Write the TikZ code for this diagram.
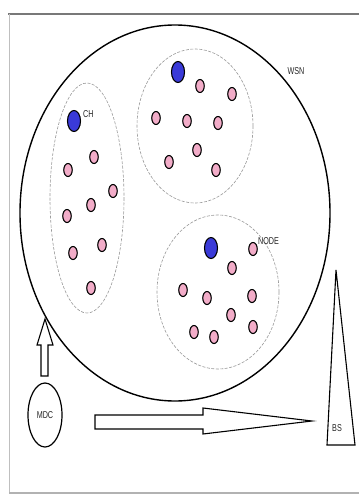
\documentclass[tikz,border=0pt]{standalone}
\usepackage{fontspec}
\setmainfont{Liberation Sans}
\usetikzlibrary{shapes.geometric}
\definecolor{pinkn}{RGB}{242,172,200}
\definecolor{bluen}{RGB}{58,58,216}
\definecolor{frameg}{RGB}{120,120,120}
\tikzset{
  pnode/.style={ellipse,draw=black,line width=1.1pt,fill=pinkn,minimum width=8.5pt,minimum height=13pt,inner sep=0pt},
  chnode/.style={ellipse,draw=black,line width=1.1pt,fill=bluen,minimum width=13pt,minimum height=21pt,inner sep=0pt},
  cluster/.style={draw=gray!80,dashed,dash pattern=on 3pt off 1.5pt,line width=0.6pt},
  lbl/.style={font=\fontsize{10}{10}\selectfont,text=black!85,inner sep=0pt,xscale=0.72},
  blockarrow/.style={draw=black,line width=1.1pt,fill=white,line join=miter}
}
\begin{document}
\begin{tikzpicture}[x=1pt,y=-1pt]
\useasboundingbox (0,0) rectangle (359,495);
\fill[white] (0,0) rectangle (359,495);
% frame lines
\draw[frameg,line width=2pt] (8,14) -- (359,14);
\draw[gray!50,line width=0.8pt] (9,14) -- (9,493);
\draw[gray!60,line width=1.2pt] (9,493) -- (359,493);
% WSN big ellipse
\draw[black,line width=1.4pt] (175,213) ellipse [x radius=155,y radius=188];
\node[lbl] (wsn) at (296,71) {WSN};
% clusters
\draw[cluster] (87,198) ellipse [x radius=37,y radius=115];
\draw[cluster] (195,126) ellipse [x radius=58,y radius=77];
\draw[cluster] (218,292) ellipse [x radius=61,y radius=77];
% left cluster nodes
\node[chnode] (ch1) at (74,121) {};
\node[lbl,anchor=west] (chl) at (83,114) {CH};
\node[pnode] (a1) at (94,157) {};
\node[pnode] (a2) at (68,170) {};
\node[pnode] (a3) at (113,191) {};
\node[pnode] (a4) at (91,205) {};
\node[pnode] (a5) at (67,216) {};
\node[pnode] (a6) at (102,245) {};
\node[pnode] (a7) at (73,253) {};
\node[pnode] (a8) at (91,288) {};
% top cluster nodes
\node[chnode] (ch2) at (178,72) {};
\node[pnode] (b1) at (200,86) {};
\node[pnode] (b2) at (232,94) {};
\node[pnode] (b3) at (156,118) {};
\node[pnode] (b4) at (187,121) {};
\node[pnode] (b5) at (218,123) {};
\node[pnode] (b6) at (197,150) {};
\node[pnode] (b7) at (169,162) {};
\node[pnode] (b8) at (216,170) {};
% bottom cluster nodes
\node[chnode] (ch3) at (211,248) {};
\node[pnode] (c1) at (253,249) {};
\node[lbl,anchor=west] (nodel) at (258,241) {NODE};
\node[pnode] (c2) at (232,268) {};
\node[pnode] (c3) at (183,290) {};
\node[pnode] (c4) at (207,298) {};
\node[pnode] (c5) at (252,296) {};
\node[pnode] (c6) at (231,315) {};
\node[pnode] (c7) at (253,327) {};
\node[pnode] (c8) at (194,332) {};
\node[pnode] (c9) at (214,337) {};
% MDC
\node[ellipse,draw=black,line width=1.2pt,minimum width=34pt,minimum height=64pt,inner sep=0pt] (mdc) at (45,415) {};
\node[lbl] (mdcl) at (45,415) {MDC};
% BS triangle
\coordinate (bsapex) at (336,270);
\draw[black,line width=1.1pt] (bsapex) -- (355,445) -- (327,445) -- cycle;
\node[lbl] (bsl) at (337,428) {BS};
% up block arrow from MDC to WSN
\draw[blockarrow] (41,376) -- (41,345) -- (37,345) -- (45,319) -- (53,345) -- (48,345) -- (48,376) -- cycle;
% right block arrow from MDC towards BS
\draw[blockarrow] (95,415) -- (203,415) -- (203,408) -- (312,421) -- (203,434) -- (203,429) -- (95,429) -- cycle;
\end{tikzpicture}
\end{document}
